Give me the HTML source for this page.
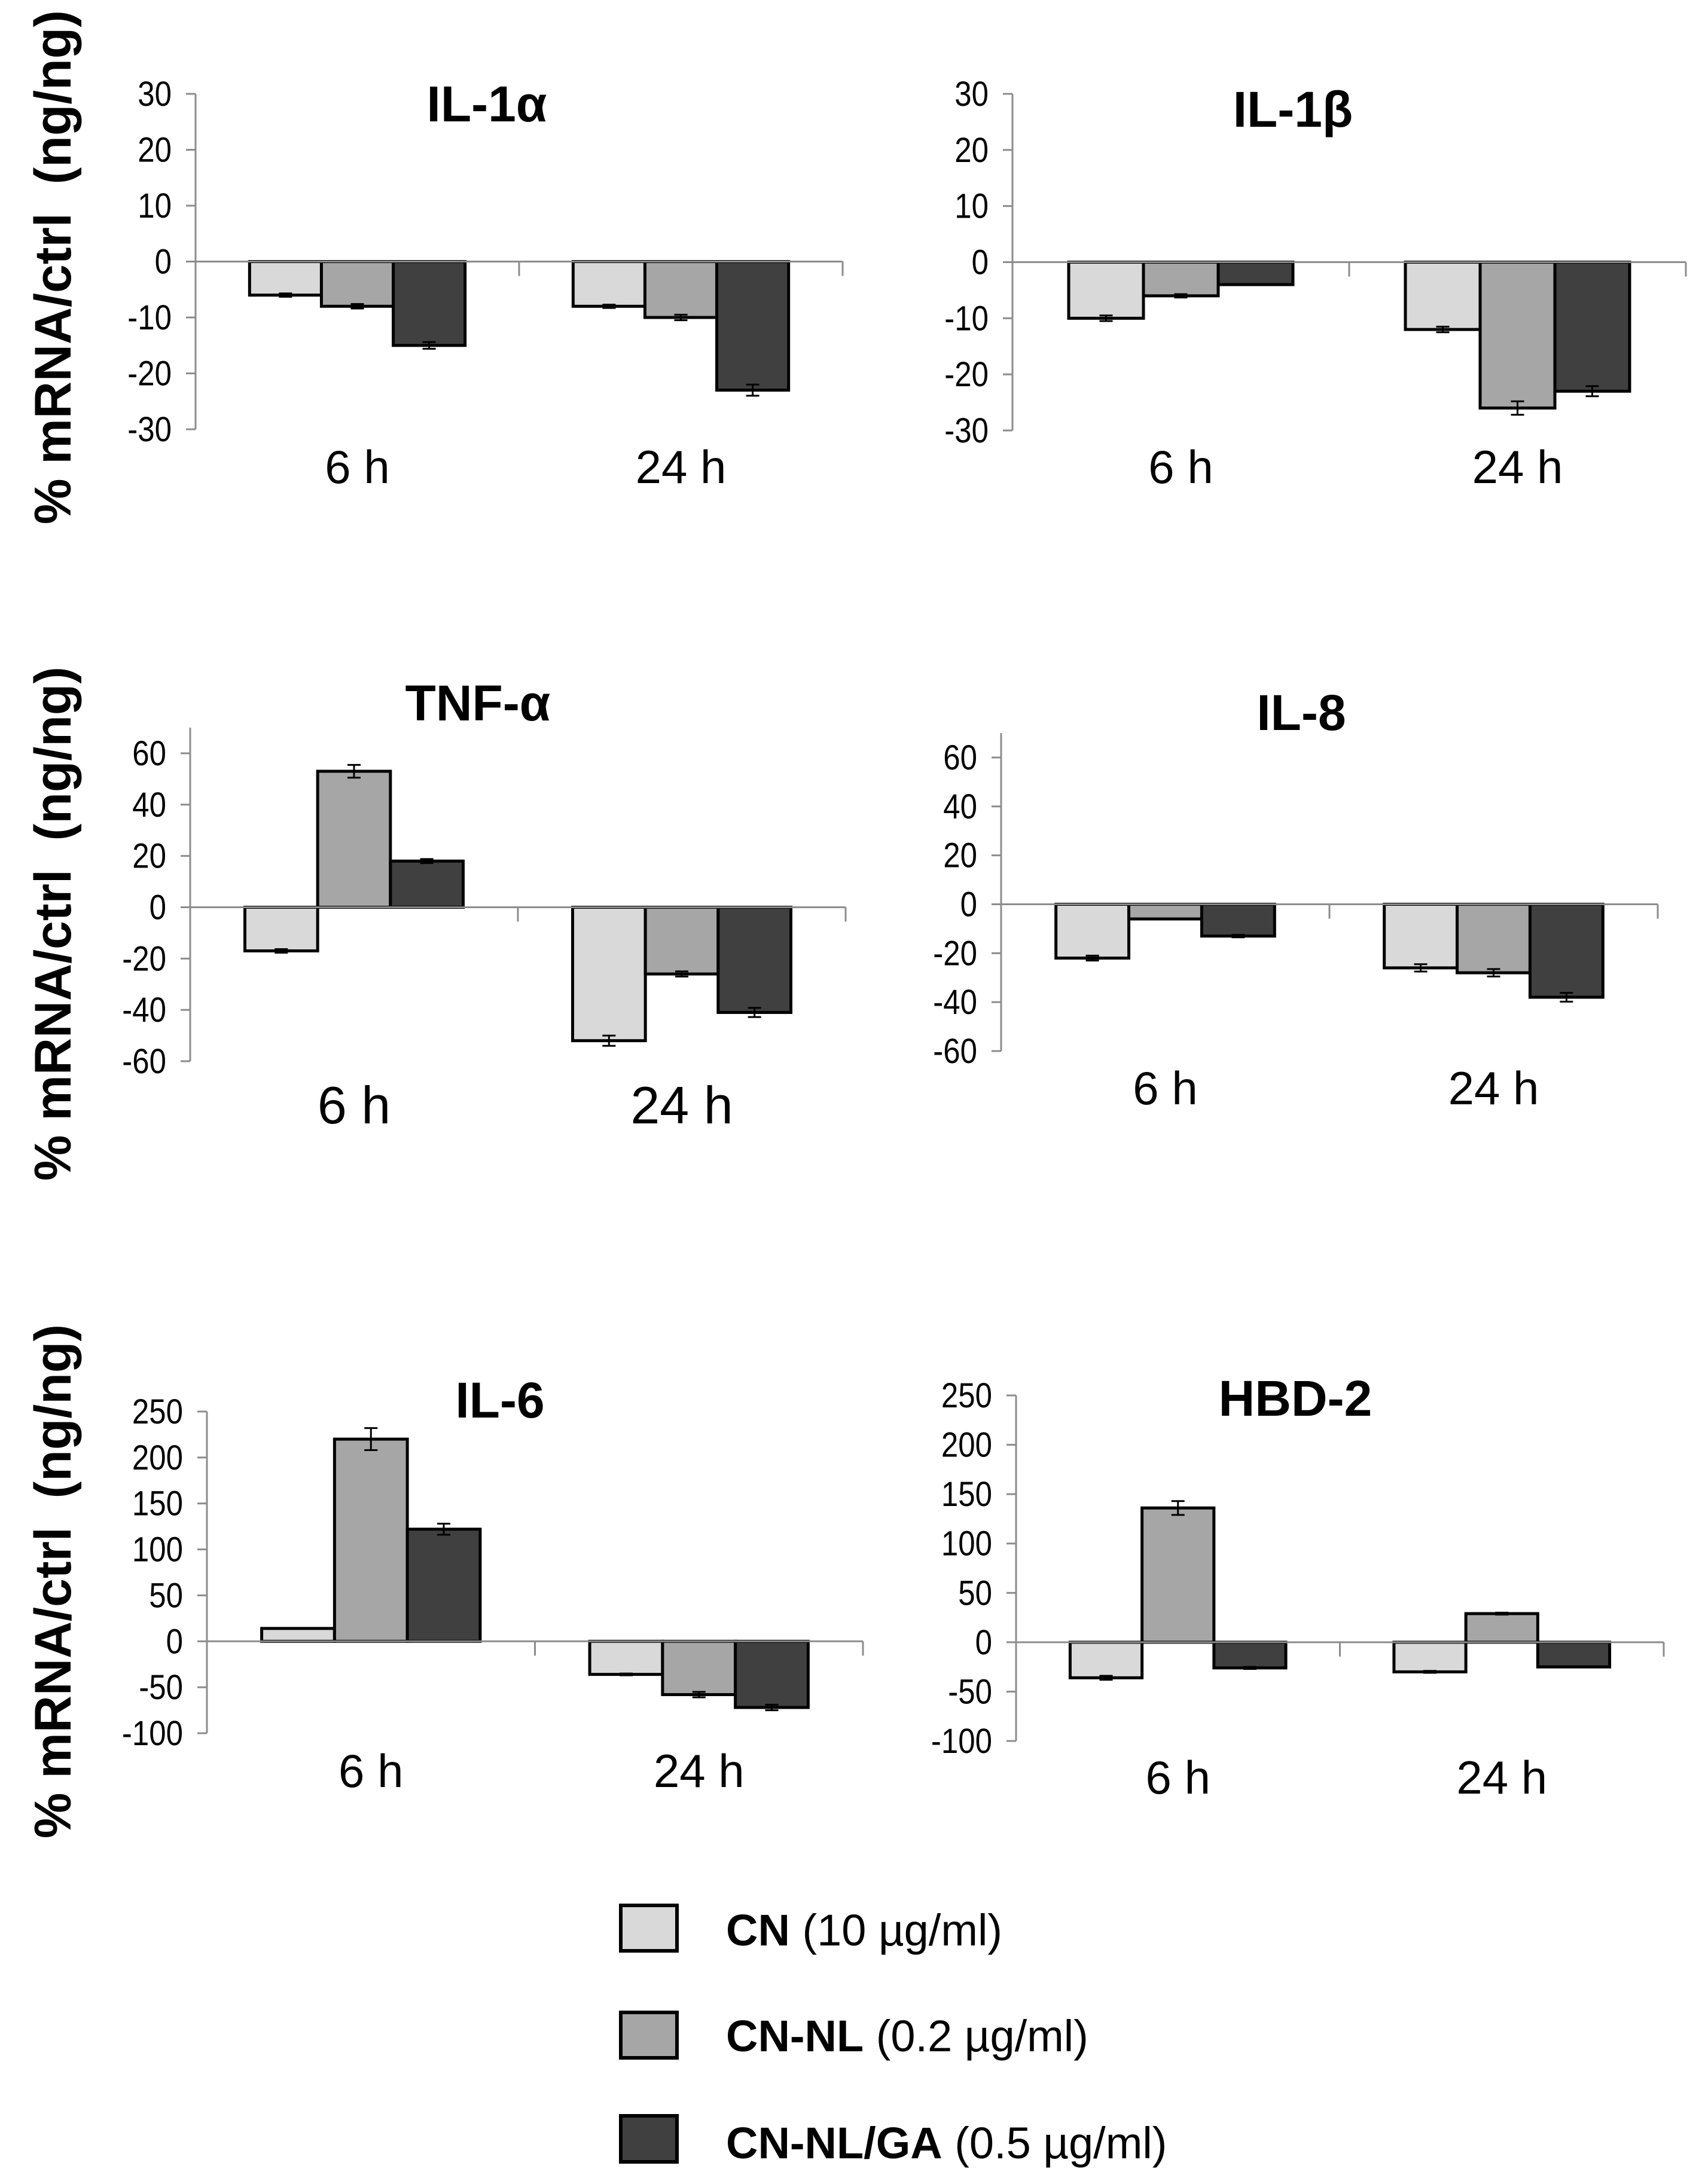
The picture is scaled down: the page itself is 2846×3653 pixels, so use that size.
<!DOCTYPE html>
<html><head><meta charset="utf-8">
<style>
html,body{margin:0;padding:0;background:#fff;}
svg{display:block;font-family:"Liberation Sans",Arial,sans-serif;}
</style></head>
<body>
<svg id="fig" width="2846" height="3653" viewBox="0 0 2846 3653" xmlns="http://www.w3.org/2000/svg">
<rect width="2846" height="3653" fill="#fff"/>
<g font-weight="bold" font-size="86" fill="#000">
<text transform="translate(118,447) rotate(-90)" text-anchor="middle" xml:space="preserve">% mRNA/ctrl  (ng/ng)</text>
<text transform="translate(118,1545) rotate(-90)" text-anchor="middle" xml:space="preserve">% mRNA/ctrl  (ng/ng)</text>
<text transform="translate(118,2645) rotate(-90)" text-anchor="middle" xml:space="preserve">% mRNA/ctrl  (ng/ng)</text>
</g>
<g id="panels"></g>
<g font-size="74" fill="#000">
<g>
<rect x="1038" y="3187" width="94" height="76" fill="#d9d9d9" stroke="#000" stroke-width="6"/>
<text x="1214" y="3254"><tspan font-weight="bold">CN</tspan> (10 µg/ml)</text></g>
<g>
<rect x="1038" y="3366" width="94" height="76" fill="#a6a6a6" stroke="#000" stroke-width="6"/>
<text x="1214" y="3431"><tspan font-weight="bold">CN-NL</tspan> (0.2 µg/ml)</text></g>
<g>
<rect x="1038" y="3539" width="94" height="77" fill="#404040" stroke="#000" stroke-width="6"/>
<text x="1214" y="3610"><tspan font-weight="bold">CN-NL/GA</tspan> (0.5 µg/ml)</text></g>
</g>
</svg>
<script>
// ---- data ----
const categories = ["6 h", "24 h"];
const seriesNames = ["CN", "CN-NL", "CN-NL/GA"];
const panelTitles = ["IL-1α", "IL-1β", "TNF-α", "IL-8", "IL-6", "HBD-2"];
const il1aValues = [[-6, -8, -15], [-8, -10, -23]];
const il1aErrors = [[0.3, 0.4, 0.6], [0.3, 0.5, 1]];
const il1bValues = [[-10, -6, -4], [-12, -26, -23]];
const il1bErrors = [[0.5, 0.3, 0], [0.5, 1.2, 0.9]];
const tnfaValues = [[-17, 53, 18], [-52, -26, -41]];
const tnfaErrors = [[0.7, 2.5, 0.8], [2, 1, 1.8]];
const il8Values = [[-22, -6, -13], [-26, -28, -38]];
const il8Errors = [[1, 0, 0.5], [1.5, 1.5, 1.8]];
const il6Values = [[14, 220, 122], [-36, -58, -72]];
const il6Errors = [[0, 12, 6], [1, 3, 3]];
const hbd2Values = [[-36, 136, -26], [-30, 29, -25]];
const hbd2Errors = [[2, 7, 1], [1, 1, 0]];
const ticksSmall = [30, 20, 10, 0, -10, -20, -30];
const ticksMid = [60, 40, 20, 0, -20, -40, -60];
const ticksLarge = [250, 200, 150, 100, 50, 0, -50, -100];

const colors = ["#d9d9d9", "#a6a6a6", "#404040"];
const NS = "http://www.w3.org/2000/svg";
const layouts = [
 {ax:327,right:1409,v1:30,p1:157,v2:-30,p2:718,top:30,tx:814,ty:203,lb:808,lf:78,vals:il1aValues,errs:il1aErrors,ticks:ticksSmall,name:"il-1a"},
 {ax:1693,right:2819,v1:30,p1:157,v2:-30,p2:720,top:30,tx:2162,ty:212,lb:808,lf:78,vals:il1bValues,errs:il1bErrors,ticks:ticksSmall,name:"il-1b"},
 {ax:318,right:1414,v1:60,p1:1260,v2:-60,p2:1775,top:70,tx:799,ty:1205,lb:1879,lf:88,vals:tnfaValues,errs:tnfaErrors,ticks:ticksMid,name:"tnf-a"},
 {ax:1674,right:2772,v1:60,p1:1267,v2:-60,p2:1758,top:70,tx:2176,ty:1221,lb:1847,lf:78,vals:il8Values,errs:il8Errors,ticks:ticksMid,name:"il-8"},
 {ax:346,right:1443,v1:250,p1:2361,v2:-100,p2:2899,top:250,tx:836,ty:2371,lb:2989,lf:78,vals:il6Values,errs:il6Errors,ticks:ticksLarge,name:"il-6"},
 {ax:1699,right:2782,v1:250,p1:2334,v2:-100,p2:2912,top:250,tx:2166,ty:2368,lb:3000,lf:78,vals:hbd2Values,errs:hbd2Errors,ticks:ticksLarge,name:"hbd-2"}
];
function mk(tag, attrs, parent){const e=document.createElementNS(NS,tag);for(const k in attrs)e.setAttribute(k,attrs[k]);parent.appendChild(e);return e;}
const root=document.getElementById("panels");
layouts.forEach((L,pi)=>{
  const g=mk("g",{},root);
  
  
  const y=v=>L.p1+(v-L.v1)*(L.p2-L.p1)/(L.v2-L.v1);
  const y0=y(0);
  const cw=(L.right-L.ax)/categories.length;
  const bw=cw*0.222, off=(cw-3*bw)/2;
  const ya=mk("line",{x1:L.ax,y1:y(L.top),x2:L.ax,y2:L.p2,stroke:"#8c8c8c","stroke-width":3},g);
  
  
  L.ticks.forEach(t=>{
    const tk=mk("line",{x1:L.ax-16,y1:y(t),x2:L.ax,y2:y(t),stroke:"#8c8c8c","stroke-width":3},g);
    
    
    const tx=L.ax-40;
    const tl=mk("text",{x:0,y:0,"text-anchor":"end","font-size":58,fill:"#000",transform:`translate(${tx},${y(t)+20}) scale(0.88,1)`},g);
    tl.textContent=String(t);
    
    
  });
  categories.forEach((c,ci)=>{
    seriesNames.forEach((s,si)=>{
      const v=L.vals[ci][si], e=L.errs[ci][si];
      const x=L.ax+ci*cw+off+si*bw;
      const yt=Math.min(y(v),y0), h=Math.abs(y(v)-y0);
      const b=mk("rect",{x:x,y:yt,width:bw,height:Math.max(h,1),fill:colors[si],stroke:"#000","stroke-width":5},g);
      
      
      if(e>0){
        const cx=x+bw/2, ya1=y(v+e), ya2=y(v-e);
        const eb=mk("path",{d:`M${cx},${ya1}V${ya2}M${cx-11},${ya1}H${cx+11}M${cx-11},${ya2}H${cx+11}`,stroke:"#000","stroke-width":3,fill:"none"},g);
        
        
      }
    });
    const xl=mk("text",{x:L.ax+ci*cw+cw/2,y:L.lb,"text-anchor":"middle","font-size":L.lf,fill:"#000"},g);
    xl.textContent=c;
    
    
  });
  const xa=mk("line",{x1:L.ax,y1:y0,x2:L.right,y2:y0,stroke:"#8c8c8c","stroke-width":3},g);
  
  
  for(let i=1;i<=categories.length;i++){
    const xt=mk("line",{x1:L.ax+i*cw,y1:y0,x2:L.ax+i*cw,y2:y0+24,stroke:"#8c8c8c","stroke-width":3},g);
    
    
  }
  const tt=mk("text",{x:L.tx,y:L.ty,"text-anchor":"middle","font-size":84,"font-weight":"bold",fill:"#000"},g);
  tt.textContent=panelTitles[pi];
  
  
});
</script>
</body></html>
